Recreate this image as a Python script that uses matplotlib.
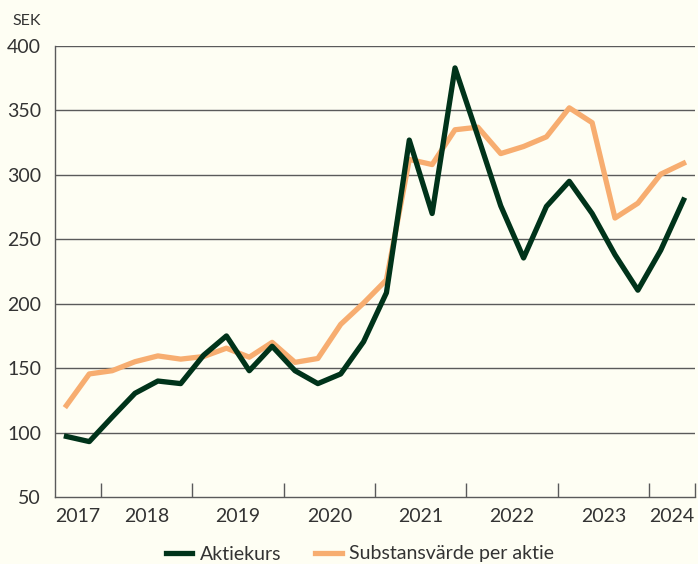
import matplotlib
matplotlib.use("Agg")
import matplotlib.pyplot as plt
from matplotlib.ticker import FixedLocator, NullFormatter

# ---- data (quarterly, Q3 2017 .. Q2 2024) ----
year_labels = ["2017", "2018", "2019", "2020", "2021", "2022", "2023", "2024"]
aktiekurs = [97, 93, 112, 130.5, 140, 138, 160, 175, 148, 167, 148, 138, 145.5,
             170.5, 208.5, 327, 270, 383, 330, 276, 235.5, 275.5, 295, 270, 238,
             210.5, 241.5, 280.5]
substansvarde = [121, 145.5, 148, 155, 159.5, 157, 159, 165.5, 158.5, 170, 154.5,
                 157.5, 184, 200.5, 218.5, 312, 308, 335, 337, 316.5, 322, 329.5,
                 352, 340.5, 266.5, 278, 300.5, 309]
quarters_per_year = [2, 4, 4, 4, 4, 4, 4, 2]
y_ticks = [50, 100, 150, 200, 250, 300, 350, 400]
series_names = ["Aktiekurs", "Substansvärde per aktie"]

BG = "#FEFEF3"
GREEN = "#00331A"
ORANGE = "#F7AD70"
TEXT = "#333333"
GRID = "#5A5A5A"

plt.rcParams['font.family'] = ['Lato', 'DejaVu Sans']

fig = plt.figure(figsize=(6.98, 5.64), dpi=100, facecolor=BG)
ax = fig.add_axes([55/698, 1-497/564, 640/698, 451/564], facecolor=BG)

x = list(range(len(aktiekurs)))
ax.plot(x, substansvarde, color=ORANGE, lw=3.8, label=series_names[1], zorder=3)
ax.plot(x, aktiekurs, color=GREEN, lw=3.8, label=series_names[0], zorder=4)

ax.set_xlim(-0.5, len(aktiekurs) - 0.5)
ax.set_ylim(50, 400)

# year boundaries & label centers
bounds = [-0.5]
for q in quarters_per_year:
    bounds.append(bounds[-1] + q)
centers = [(bounds[i] + bounds[i+1]) / 2 for i in range(len(quarters_per_year))]

ax.xaxis.set_major_locator(FixedLocator(bounds[1:]))
ax.xaxis.set_major_formatter(NullFormatter())
ax.xaxis.set_minor_locator(FixedLocator(centers))
ax.set_xticklabels(year_labels, minor=True)
ax.tick_params(axis='x', which='major', direction='in', length=10, width=1, color=GRID)
ax.tick_params(axis='x', which='minor', length=0, pad=8, labelsize=14, labelcolor=TEXT)

ax.set_yticks(y_ticks)
ax.tick_params(axis='y', length=0, pad=10, labelsize=14, labelcolor=TEXT)

for v in y_ticks[1:]:
    ax.axhline(v, color=GRID, lw=1, zorder=1)

for s in ['top', 'right']:
    ax.spines[s].set_visible(False)
for s in ['left', 'bottom']:
    ax.spines[s].set_color(GRID)
    ax.spines[s].set_linewidth(1)

fig.text(12/698, 1-21/564, "SEK", fontsize=11.5, color=TEXT, va='center', ha='left')

handles, labels = ax.get_legend_handles_labels()
order = [1, 0]
leg = fig.legend([handles[i] for i in order], [labels[i] for i in order],
                 loc='center', bbox_to_anchor=(360/698, 1-554/564), ncol=2,
                 frameon=False, fontsize=14, handlelength=1.35, columnspacing=1.75,
                 handletextpad=0.4)
for t in leg.get_texts():
    t.set_color(TEXT)

fig.savefig("out.png", dpi=100, facecolor=BG)
